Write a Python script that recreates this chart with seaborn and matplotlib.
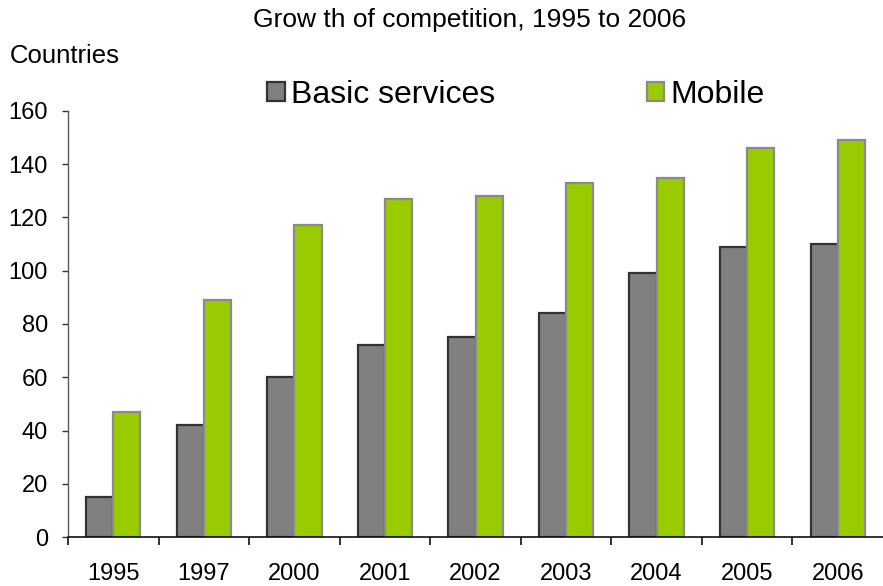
import matplotlib
matplotlib.use("Agg")
import matplotlib.pyplot as plt
from matplotlib.patches import Patch
from matplotlib.ticker import FixedLocator
import seaborn as sns
import pandas as pd

years = ["1995", "1997", "2000", "2001", "2002", "2003", "2004", "2005", "2006"]
basic = [15, 42, 60, 72, 75, 84, 99, 109, 110]
mobile = [47, 89, 117, 127, 128, 133, 135, 146, 149]
series = ["Basic services", "Mobile"]
yticks = [0, 20, 40, 60, 80, 100, 120, 140, 160]

fill_colors = {"Basic services": "#808080", "Mobile": "#99CC00"}
edge_colors = {"Basic services": "#333333", "Mobile": "#8a8a8a"}

df = pd.DataFrame({
    "Year": years * 2,
    "Countries": basic + mobile,
    "Series": [series[0]] * len(years) + [series[1]] * len(years),
})

sns.set_style("white")
plt.rcParams["font.family"] = ["Liberation Sans", "DejaVu Sans"]
plt.rcParams["text.color"] = "black"
plt.rcParams["xtick.color"] = "black"
plt.rcParams["ytick.color"] = "black"

fig = plt.figure(figsize=(8.83, 5.86), dpi=100)
ax = fig.add_axes([68 / 883, 1 - 537 / 586, (883 - 68) / 883, (537 - 111) / 586])

sns.barplot(data=df, x="Year", y="Countries", hue="Series", order=years,
            hue_order=series, palette=fill_colors, width=0.6, gap=0,
            saturation=1, ax=ax, legend=False)

for cont, s in zip(ax.containers, series):
    for p in cont:
        p.set_edgecolor(edge_colors[s])
        p.set_linewidth(1.6)

ax.set_xlim(-0.5, len(years) - 0.5)
ax.set_ylim(0, 160)
ax.set_yticks(yticks)
ax.set_xlabel("")
ax.set_ylabel("")

for sp in ["top", "right"]:
    ax.spines[sp].set_visible(False)
ax.spines["left"].set_color("#5a5a5a")
ax.spines["left"].set_linewidth(1.0)
ax.spines["bottom"].set_color("#111111")
ax.spines["bottom"].set_linewidth(1.2)

ax.tick_params(axis="y", which="major", length=4.5, width=1, color="#333333",
               labelsize=17, pad=10, left=True, direction="out",
               labelcolor="black")
ax.tick_params(axis="x", which="major", length=0, labelsize=17, pad=19,
               labelcolor="black")
ax.xaxis.set_minor_locator(FixedLocator([i - 0.5 for i in range(len(years))]))
ax.tick_params(axis="x", which="minor", length=6, width=1.2, color="#111111",
               bottom=True, direction="out")
ax.set_facecolor("none")

fig.text(0.532, 0.966, "Grow th of competition, 1995 to 2006", ha="center",
         va="center", fontsize=19, color="black")
fig.text(0.011, 0.904, "Countries", ha="left", va="center", fontsize=18.5,
         color="black")

handles = [Patch(facecolor=fill_colors[s], edgecolor=edge_colors[s], linewidth=1.6)
           for s in series]
fig.legend(handles, series, loc="center left",
           bbox_to_anchor=(267 / 883, 1 - 95 / 586), ncol=2, frameon=False,
           fontsize=23, handlelength=0.55, handleheight=0.55, handletextpad=0.2,
           columnspacing=4.75, borderpad=0, borderaxespad=0)

fig.savefig("out.png", dpi=100)
